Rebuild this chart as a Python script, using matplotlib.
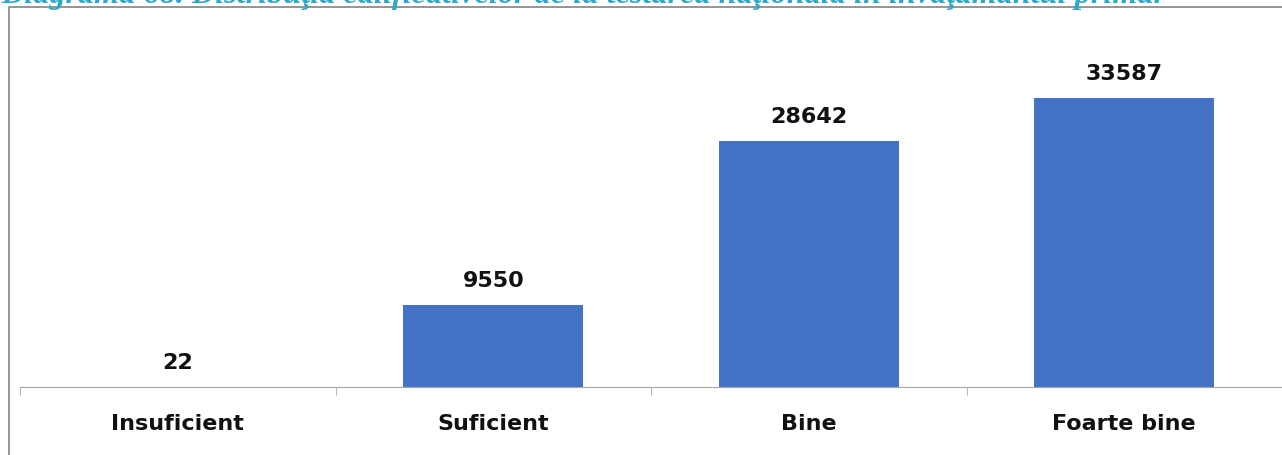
import numpy as np
import matplotlib
matplotlib.use("Agg")
import matplotlib.pyplot as plt
from matplotlib.patches import Rectangle

plt.rcParams["font.family"] = ["DejaVu Sans"]

TITLE = ("Diagrama 68. Distribuţia calificativelor de la testarea naţională "
         "în învăţământul primar")
categories = ["Insuficient", "Suficient", "Bine", "Foarte bine"]
values = [22, 9550, 28642, 33587]

W, H = 1282, 456
fig = plt.figure(figsize=(W / 100, H / 100), dpi=100)

# outer chart frame (extends past the right and bottom edges)
fig.patches.append(Rectangle((9 / W, -0.1), 1.2, 1 - 7.5 / H + 0.1,
                             transform=fig.transFigure, fill=False,
                             edgecolor="#8c8c8c", linewidth=1.3))

# caption, cut off by the top edge as in the source page
fig.text(1 / W, 1 - 3.5 / H, TITLE, family="Liberation Serif", style="italic",
         fontweight="bold", fontsize=23.2, color="#2ea7c9", va="baseline",
         ha="left")

ax = fig.add_axes([20 / W, 1 - 388 / H, (W - 20) / W, 348 / H])
x = np.arange(len(categories))
bars = ax.bar(x, values, width=0.57, color="#4472C4")
ax.set_xlim(-0.5, len(categories) - 0.5)
ax.set_ylim(0, 40440)

for b, v in zip(bars, values):
    ax.annotate(f"{v}", (b.get_x() + b.get_width() / 2, v), xytext=(0, 25),
                textcoords="offset pixels", ha="center", va="center",
                fontsize=16, fontweight="bold", color="#111111")

for s in ["top", "right", "left"]:
    ax.spines[s].set_visible(False)
ax.spines["bottom"].set_color("#a6a6a6")
ax.set_yticks([])
ax.set_xticks(x)
ax.set_xticklabels(categories, fontsize=16, fontweight="bold",
                   color="#111111")
ax.tick_params(axis="x", which="major", length=0, pad=19)
ax.set_xticks(np.arange(-0.5, len(categories)), minor=True)
ax.tick_params(axis="x", which="minor", length=6, color="#a6a6a6")

fig.savefig("out.png", dpi=100)
